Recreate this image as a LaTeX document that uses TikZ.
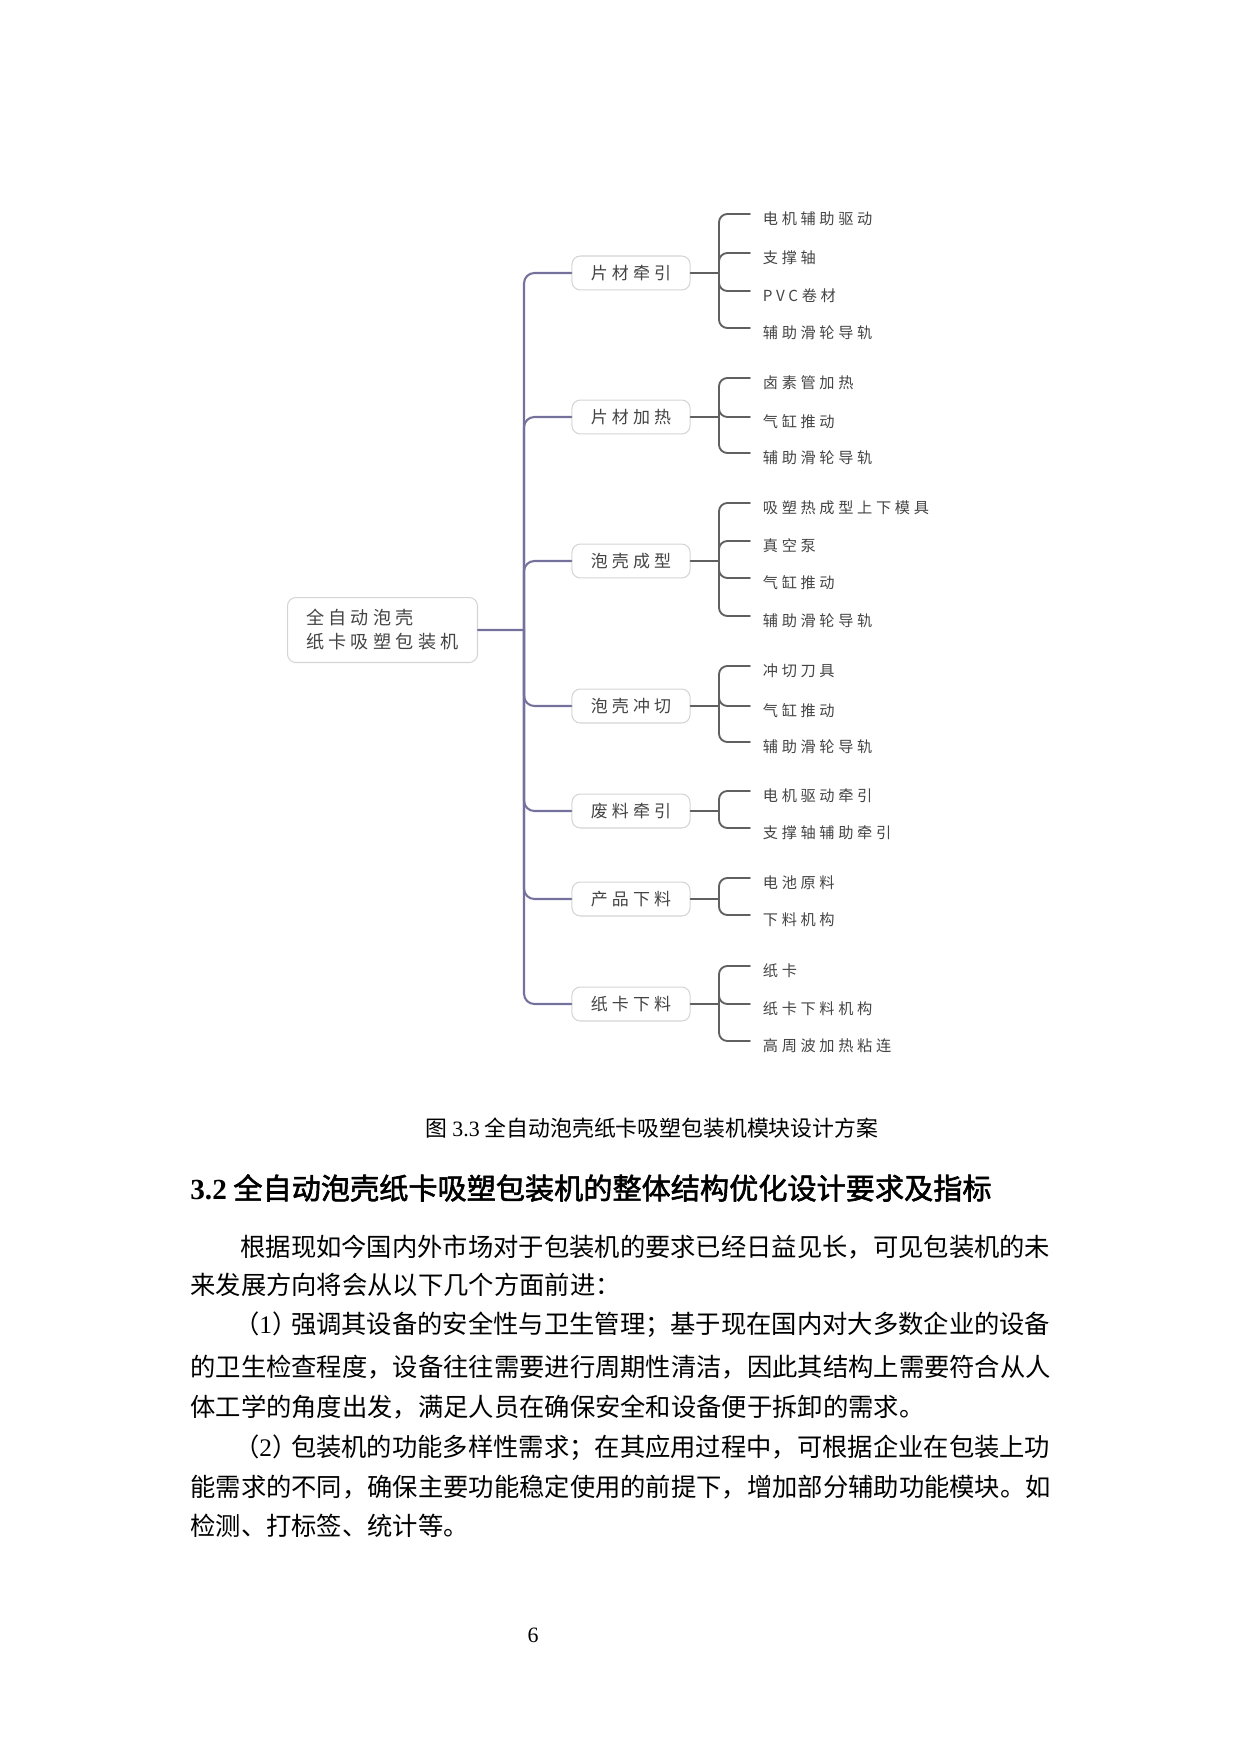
\documentclass[tikz,border=0pt]{standalone}
\usepackage{fontspec}
\setmainfont{Liberation Serif}
\newfontfamily\mapfont{Noto Sans CJK SC}[LetterSpace=24]
\newfontfamily\cjk{Noto Sans CJK SC}
\newfontfamily\cjkbf{Noto Sans CJK SC}[FakeBold=2]
\definecolor{limbc}{RGB}{116,114,156}
\definecolor{twigc}{RGB}{96,96,96}
\definecolor{boxc}{RGB}{212,212,212}
\definecolor{mapc}{RGB}{68,68,68}
\begin{document}
\begin{tikzpicture}[x=0.4801pt, y=-0.4801pt, line join=round, line cap=round,
	box/.style={draw=boxc, line width=0.5pt, rounded corners=4pt, text=mapc, inner sep=0pt,
		minimum width=56.7pt, minimum height=16.3pt, font=\mapfont\fontsize{8.15pt}{9pt}\selectfont},
	rootbox/.style={draw=boxc, line width=0.5pt, rounded corners=4pt, text=mapc, anchor=north west,
		inner xsep=8.2pt, inner ysep=0pt, minimum width=91.2pt, minimum height=31.2pt,
		align=left, font=\mapfont\fontsize{8.7pt}{11.5pt}\selectfont},
	leaf/.style={anchor=west, inner xsep=6pt, inner ysep=0pt, text height=11pt, text depth=1pt,
		text=mapc, font=\mapfont\fontsize{7.3pt}{8pt}\selectfont},
	limb/.style={draw=limbc, line width=1pt, rounded corners=5pt},
	twig/.style={draw=twigc, line width=0.9pt, rounded corners=4pt},
	body/.style={anchor=west, inner sep=0pt, font=\cjk\fontsize{12.15pt}{14pt}\selectfont}]
	\useasboundingbox (0,0) rectangle (1240,1754);
	\def\xb{631} \def\xk{719} \def\xl{750} % box centre, bracket, leaf
	
	% root and trunk
	\node[rootbox] (root) at (287,597) {全自动泡壳\\纸卡吸塑包装机};
	\coordinate (trunk) at (524,630);
	\draw[limb] (root.east) -- (trunk);
	
	% modules
	\node[box] (b1) at (\xb,273) {片材牵引};
	\node[box] (b2) at (\xb,417) {片材加热};
	\node[box] (b3) at (\xb,561) {泡壳成型};
	\node[box] (b4) at (\xb,706) {泡壳冲切};
	\node[box] (b5) at (\xb,811) {废料牵引};
	\node[box] (b6) at (\xb,899) {产品下料};
	\node[box] (b7) at (\xb,1004) {纸卡下料};
	\draw[limb] (trunk) |- (b1.west);
	\draw[limb] (trunk) |- (b2.west);
	\draw[limb] (trunk) |- (b3.west);
	\draw[limb] (trunk) |- (b4.west);
	\draw[limb] (trunk) |- (b5.west);
	\draw[limb] (trunk) |- (b6.west);
	\draw[limb] (trunk) |- (b7.west);
	
	%片材牵引
	\coordinate (k1) at (\xk,273);
	\draw[twig] (b1.east) -- (k1);
	\node[leaf] (a11) at (\xl,214) {电机辅助驱动};
	\node[leaf] (a12) at (\xl,253) {支撑轴};
	\node[leaf] (a13) at (\xl,291) {PVC卷材};
	\node[leaf] (a14) at (\xl,328) {辅助滑轮导轨};
	\draw[twig] (k1) |- (a11.west);
	\draw[twig] (k1) |- (a12.west);
	\draw[twig] (k1) |- (a13.west);
	\draw[twig] (k1) |- (a14.west);
	
	% 片材加热
	\coordinate (k2) at (\xk,417);
	\draw[twig] (b2.east) -- (k2);
	\node[leaf] (a21) at (\xl,378) {卤素管加热};
	\node[leaf] (a22) at (\xl,417) {气缸推动};
	\node[leaf] (a23) at (\xl,453) {辅助滑轮导轨};
	\draw[twig] (k2) |- (a21.west);
	\draw[twig] (k2) |- (a22.west);
	\draw[twig] (k2) |- (a23.west);
	
	% 泡壳成型
	\coordinate (k3) at (\xk,561);
	\draw[twig] (b3.east) -- (k3);
	\node[leaf] (a31) at (\xl,503) {吸塑热成型上下模具};
	\node[leaf] (a32) at (\xl,541) {真空泵};
	\node[leaf] (a33) at (\xl,578) {气缸推动};
	\node[leaf] (a34) at (\xl,616) {辅助滑轮导轨};
	\draw[twig] (k3) |- (a31.west);
	\draw[twig] (k3) |- (a32.west);
	\draw[twig] (k3) |- (a33.west);
	\draw[twig] (k3) |- (a34.west);
	
	% 泡壳冲切
	\coordinate (k4) at (\xk,706);
	\draw[twig] (b4.east) -- (k4);
	\node[leaf] (a41) at (\xl,666) {冲切刀具};
	\node[leaf] (a42) at (\xl,706) {气缸推动};
	\node[leaf] (a43) at (\xl,742) {辅助滑轮导轨};
	\draw[twig] (k4) |- (a41.west);
	\draw[twig] (k4) |- (a42.west);
	\draw[twig] (k4) |- (a43.west);
	
	% 废料牵引
	\coordinate (k5) at (\xk,811);
	\draw[twig] (b5.east) -- (k5);
	\node[leaf] (a51) at (\xl,791) {电机驱动牵引};
	\node[leaf] (a52) at (\xl,828) {支撑轴辅助牵引};
	\draw[twig] (k5) |- (a51.west);
	\draw[twig] (k5) |- (a52.west);
	
	% 产品下料
	\coordinate (k6) at (\xk,899);
	\draw[twig] (b6.east) -- (k6);
	\node[leaf] (a61) at (\xl,878) {电池原料};
	\node[leaf] (a62) at (\xl,915) {下料机构};
	\draw[twig] (k6) |- (a61.west);
	\draw[twig] (k6) |- (a62.west);
	
	% 纸卡下料
	\coordinate (k7) at (\xk,1004);
	\draw[twig] (b7.east) -- (k7);
	\node[leaf] (a71) at (\xl,966) {纸卡};
	\node[leaf] (a72) at (\xl,1004) {纸卡下料机构};
	\node[leaf] (a73) at (\xl,1041) {高周波加热粘连};
	\draw[twig] (k7) |- (a71.west);
	\draw[twig] (k7) |- (a72.west);
	\draw[twig] (k7) |- (a73.west);
	
	% caption and text
	\node[font=\cjk\fontsize{10.5pt}{12pt}\selectfont, inner sep=0pt] (cap) at (652,1128) {图 {\rmfamily 3.3} 全自动泡壳纸卡吸塑包装机模块设计方案};
	\node[anchor=west, inner sep=0pt, font=\cjkbf\fontsize{14pt}{16pt}\selectfont] (head) at (190,1188) {{\rmfamily\bfseries 3.2} 全自动泡壳纸卡吸塑包装机的整体结构优化设计要求及指标};
	\node[body] (p1) at (240,1247) {根据现如今国内外市场对于包装机的要求已经日益见长，可见包装机的未};
	\node[body] (p2) at (190,1285) {来发展方向将会从以下几个方面前进：};
	\node[body] (p3) at (240,1325) {\kern-0.25em（{\rmfamily 1}）\kern-0.25em 强调其设备的安全性与卫生管理；基于现在国内对大多数企业的设备};
	\node[body] (p4) at (190,1367) {的卫生检查程度，设备往往需要进行周期性清洁，因此其结构上需要符合从人};
	\node[body] (p5) at (190,1407) {体工学的角度出发，满足人员在确保安全和设备便于拆卸的需求。};
	\node[body] (p6) at (240,1448) {\kern-0.25em（{\rmfamily 2}）\kern-0.25em 包装机的功能多样性需求；在其应用过程中，可根据企业在包装上功};
	\node[body] (p7) at (190,1487) {能需求的不同，确保主要功能稳定使用的前提下，增加部分辅助功能模块。如};
	\node[body] (p8) at (190,1526) {检测、打标签、统计等。};
	\node[font=\fontsize{10.5pt}{12pt}\selectfont, inner sep=0pt] (pg) at (533,1635) {6};
\end{tikzpicture}
\end{document}
